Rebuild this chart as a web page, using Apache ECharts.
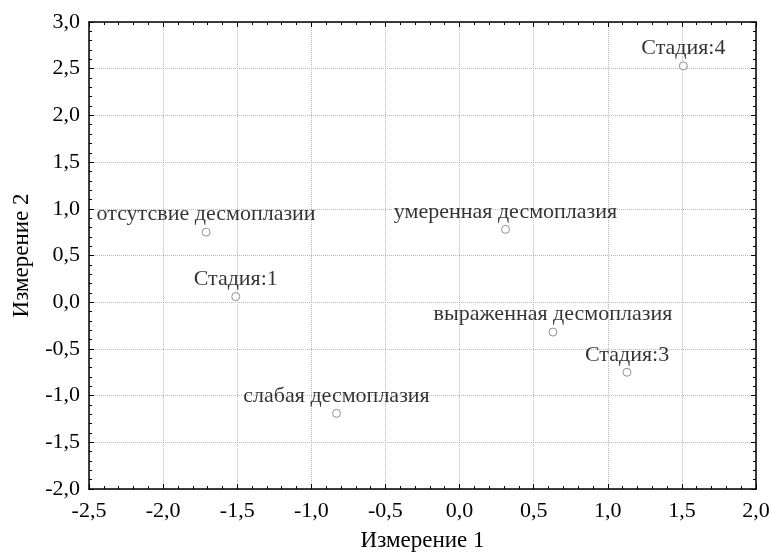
<!DOCTYPE html>
<html><head><meta charset="utf-8">
<script src="https://cdn.jsdelivr.net/npm/echarts@6/dist/echarts.min.js"></script>
<style>html,body{margin:0;padding:0;background:#fff}#c{width:771px;height:553px}</style>
</head><body><div id="c"></div>
<script>
const labels = ["Стадия:4","отсутсвие десмоплазии","Стадия:1","умеренная десмоплазия","выраженная десмоплазия","Стадия:3","слабая десмоплазия"];
const dim1 = [1.51, -1.71, -1.51, 0.31, 0.63, 1.13, -0.83];
const dim2 = [2.53, 0.75, 0.06, 0.78, -0.32, -0.75, -1.19];
const xTicks = {min:-2.5, max:2.0, interval:0.5};
const yTicks = {min:-2.0, max:3.0, interval:0.5};

const fmt = v => v.toFixed(1).replace('.', ',');
const font = '"Liberation Serif","DejaVu Serif",serif';
const data = labels.map((n,i)=>({name:n, value:[dim1[i], dim2[i]]}));

const baseAxis = (t, m) => ({
  type:'value', min:t.min, max:t.max, interval:t.interval,
  axisLine:{show:true, onZero:false, lineStyle:{color:'#000', width:1.5}},
  axisTick:{show:true, inside:true, length:5, lineStyle:{color:'#000'}},
  minorTick:{show:true, splitNumber:5, length:3, lineStyle:{color:'#000'}},
  axisLabel:{color:'#000', fontFamily:font, fontSize:22, formatter:fmt, margin:m},
  splitLine:{show:true, lineStyle:{color:'#b8b8b8', type:[1,1], width:1}}
});
const secAxis = (t, pos) => Object.assign(baseAxis(t, 8), {
  position:pos, axisLabel:{show:false}, splitLine:{show:false}
});

const chart = echarts.init(document.getElementById('c'));
chart.setOption({
  backgroundColor:'#fff',
  animation:false,
  grid:{left:89, right:15, top:22, bottom:64, containLabel:false, outerBoundsMode:'none'},
  xAxis:[
    Object.assign(baseAxis(xTicks, 11), {position:'bottom', name:'Измерение 1', nameLocation:'middle', nameGap:40,
      nameTextStyle:{color:'#000', fontFamily:font, fontSize:23}}),
    secAxis(xTicks,'top')
  ],
  yAxis:[
    Object.assign(baseAxis(yTicks, 9), {position:'left', name:'Измерение 2', nameLocation:'middle', nameGap:56,
      nameTextStyle:{color:'#000', fontFamily:font, fontSize:23}}),
    secAxis(yTicks,'right')
  ],
  series:[{
    type:'scatter', xAxisIndex:0, yAxisIndex:0,
    symbol:'circle', symbolSize:8,
    itemStyle:{color:'#fff', borderColor:'#777', borderWidth:1},
    label:{show:true, position:'top', distance:2, formatter:p=>p.name,
      color:'#000', fontFamily:font, fontSize:22},
    data:data
  }]
});
</script></body></html>
